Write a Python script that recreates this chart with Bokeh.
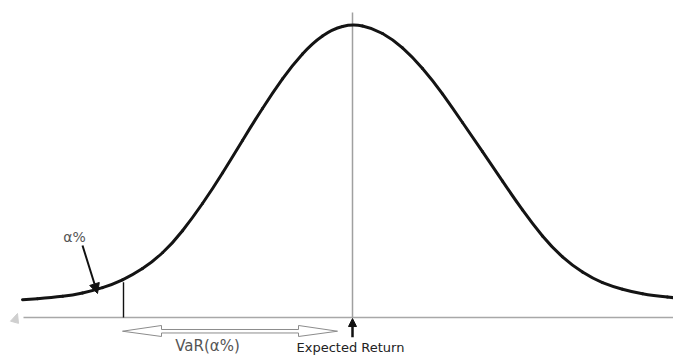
from bokeh.plotting import figure
from bokeh.models import Range1d, Arrow, NormalHead, Label
from bokeh.embed import file_html
from bokeh.resources import INLINE

# Return (in standard-deviation units from the expected return) and density
curve_x = [-3.30, -3.00, -2.80, -2.60, -2.40, -2.20, -2.00, -1.80, -1.60, -1.40, -1.20,
           -1.00, -0.80, -0.60, -0.40, -0.20, 0.00, 0.20, 0.40, 0.60, 0.80, 1.00,
           1.20, 1.40, 1.60, 1.80, 2.00, 2.20, 2.40, 2.60, 2.80, 3.00, 3.30]
curve_y = [0.0243, 0.0271, 0.0305, 0.0363, 0.0450, 0.0577, 0.0756, 0.1009, 0.1356, 0.1751, 0.2188,
           0.2637, 0.3060, 0.3442, 0.3741, 0.3932, 0.4000, 0.3946, 0.3796, 0.3551, 0.3237, 0.2855,
           0.2460, 0.2059, 0.1656, 0.1274, 0.0947, 0.0707, 0.0530, 0.0423, 0.0348, 0.0298, 0.0258]

expected_return = 0.00
var_cutoff = -2.29
var_density = 0.048
labels = ["α%", "VaR(α%)", "Expected Return"]

p = figure(width=673, height=355, output_backend="svg", toolbar_location=None,
           x_range=Range1d(-3.52, 3.21), y_range=Range1d(-0.0518, 0.4320),
           min_border=0)
p.axis.visible = False
p.grid.visible = False
p.outline_line_color = None
p.background_fill_color = "white"

# baseline axis
p.line([-3.29, 3.30], [0, 0], line_color="#a8a8a8", line_width=1.6)
p.patch([-3.42, -3.35, -3.34], [-0.005, 0.0055, -0.008], fill_color="#cfcfcf", line_color="#cfcfcf")

# expected return line
p.line([expected_return, expected_return], [0, 0.4157], line_color="#a0a0a0", line_width=1.5)

# VaR cutoff line
p.line([var_cutoff, var_cutoff], [0, var_density], line_color="#111111", line_width=1.4)

# distribution curve, smoothed with quadratic segments through the midpoints of the read points
mx = [(a + b) / 2 for a, b in zip(curve_x[:-1], curve_x[1:])]
my = [(a + b) / 2 for a, b in zip(curve_y[:-1], curve_y[1:])]
sty = dict(line_color="#141414", line_width=3, line_cap="round")
p.line([curve_x[0], mx[0]], [curve_y[0], my[0]], **sty)
p.line([mx[-1], curve_x[-1]], [my[-1], curve_y[-1]], **sty)
p.quadratic(x0=mx[:-1], y0=my[:-1], x1=mx[1:], y1=my[1:],
            cx=curve_x[1:-1], cy=curve_y[1:-1], **sty)

# hollow double arrow
xl, xr = var_cutoff - 0.01, expected_return - 0.15
hl = 0.39
ym, ht, hb, st, sb = -0.0187, -0.0109, -0.0259, -0.01635, -0.0211
ax = [xl, xl + hl, xl + hl, xr - hl, xr - hl, xr, xr - hl, xr - hl, xl + hl, xl + hl]
ay = [ym, ht, st, st, ht, ym, hb, sb, sb, hb]
p.patch(ax, ay, fill_color="white", line_color="#8c8c8c", line_width=1)

# alpha arrow
p.add_layout(Arrow(end=NormalHead(size=10, fill_color="#111111", line_color="#111111"),
                   x_start=-2.70, y_start=0.0981, x_end=-2.55, y_end=0.0327,
                   line_color="#111111", line_width=2))

# expected return arrow
p.add_layout(Arrow(end=NormalHead(size=8, fill_color="#111111", line_color="#111111"),
                   x_start=expected_return, y_start=-0.0270, x_end=expected_return, y_end=-0.0014,
                   line_color="#111111", line_width=2.5))

p.add_layout(Label(x=-2.78, y=0.110, text=labels[0], text_font="DejaVu Sans",
                   text_font_size="14px", text_color="#555555",
                   text_align="center", text_baseline="middle"))
p.add_layout(Label(x=-1.45, y=-0.0388, text=labels[1], text_font="DejaVu Sans",
                   text_font_size="15px", text_color="#555555",
                   text_align="center", text_baseline="middle"))
p.add_layout(Label(x=-0.02, y=-0.0300, text=labels[2], text_font="DejaVu Sans",
                   text_font_size="13px", text_color="#222222",
                   text_align="center", text_baseline="top"))

open("out.html", "w").write(file_html(p, INLINE))
